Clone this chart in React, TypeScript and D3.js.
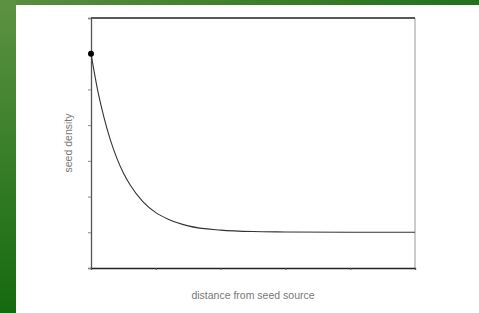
import { useEffect, useRef } from "react";
import * as d3 from "d3";

// distance from seed source (x) and seed density (y)
const distance = [0, 0.1, 0.2, 0.3, 0.4, 0.5, 0.6, 0.8, 1.0, 1.2, 1.5, 2.0, 2.5, 3.0, 4.0, 5.0];
const density = [6, 5.0, 4.22, 3.58, 3.07, 2.66, 2.34, 1.86, 1.55, 1.36, 1.18, 1.06, 1.02, 1.01, 1.0, 1.0];
const xTicks = [0, 1, 2, 3, 4, 5];
const yTicks = [0, 1, 2, 3, 4, 5, 6, 7];

export default function App() {
  const svgRef = useRef<SVGSVGElement>(null);

  const width = 479;
  const height = 313;
  const margin = { left: 91, right: 64, top: 18, bottom: 45 };

  useEffect(() => {
    const svg = d3.select(svgRef.current);
    svg.selectAll("*").remove();

    const defs = svg.append("defs");
    const gl = defs.append("linearGradient").attr("id", "gl").attr("x1", 0).attr("y1", 0).attr("x2", 0).attr("y2", 1);
    gl.append("stop").attr("offset", "0%").attr("stop-color", "#5d9241");
    gl.append("stop").attr("offset", "100%").attr("stop-color", "#156a10");
    const gt = defs.append("linearGradient").attr("id", "gt").attr("x1", 0).attr("y1", 0).attr("x2", 1).attr("y2", 0);
    gt.append("stop").attr("offset", "0%").attr("stop-color", "#5a8f3e");
    gt.append("stop").attr("offset", "100%").attr("stop-color", "#23701d");

    svg.append("rect").attr("width", width).attr("height", height).attr("fill", "#fff");
    svg.append("rect").attr("width", width).attr("height", 5).attr("fill", "url(#gt)");
    svg.append("rect").attr("width", 16).attr("height", height).attr("fill", "url(#gl)");

    const x = d3.scaleLinear().domain([0, 5]).range([margin.left, width - margin.right]);
    const y = d3.scaleLinear().domain([0, 7]).range([height - margin.bottom, margin.top]);

    // frame
    svg.append("line").attr("x1", x(5)).attr("x2", x(5)).attr("y1", y(7)).attr("y2", y(0))
      .attr("stroke", "#aaa").attr("stroke-width", 1.2);
    svg.append("line").attr("x1", x(0)).attr("x2", x(5)).attr("y1", y(7)).attr("y2", y(7))
      .attr("stroke", "#222").attr("stroke-width", 1.3);

    const yAxis = svg.append("g").attr("transform", `translate(${x(0)},0)`)
      .call(d3.axisLeft(y).tickValues(yTicks).tickSize(3).tickFormat(() => ""));
    yAxis.select(".domain").attr("stroke", "#555").attr("stroke-width", 1.3);
    yAxis.selectAll(".tick line").attr("stroke", "#888");

    const xAxis = svg.append("g").attr("transform", `translate(0,${y(0)})`)
      .call(d3.axisBottom(x).tickValues(xTicks).tickSize(2).tickFormat(() => ""));
    xAxis.select(".domain").attr("stroke", "#222").attr("stroke-width", 1.3);
    xAxis.selectAll(".tick line").attr("stroke", "#555");

    const pts = distance.map((d, i) => [d, density[i]] as [number, number]);
    const line = d3.line<[number, number]>().x(d => x(d[0])).y(d => y(d[1])).curve(d3.curveMonotoneX);
    svg.append("path").datum(pts).attr("d", line).attr("fill", "none")
      .attr("stroke", "#333").attr("stroke-width", 1.1);

    svg.append("circle").attr("cx", x(distance[0])).attr("cy", y(density[0])).attr("r", 3).attr("fill", "#000");

    svg.append("text")
      .attr("transform", `translate(69,${(y(0) + y(7)) / 2}) rotate(-90)`)
      .attr("text-anchor", "middle").attr("dominant-baseline", "middle")
      .attr("font-family", "Liberation Sans, Arial, sans-serif").attr("font-size", 10.5)
      .attr("fill", "#777").text("seed density");

    svg.append("text")
      .attr("x", (x(0) + x(5)) / 2).attr("y", 296)
      .attr("text-anchor", "middle").attr("dominant-baseline", "middle")
      .attr("font-family", "Liberation Sans, Arial, sans-serif").attr("font-size", 10.5)
      .attr("fill", "#777").text("distance from seed source");
  }, []);

  return (
    <svg
      ref={svgRef}
      width={width}
      height={height}
      style={{ position: "absolute", left: 0, top: 0 }}
    ></svg>
  );
}
